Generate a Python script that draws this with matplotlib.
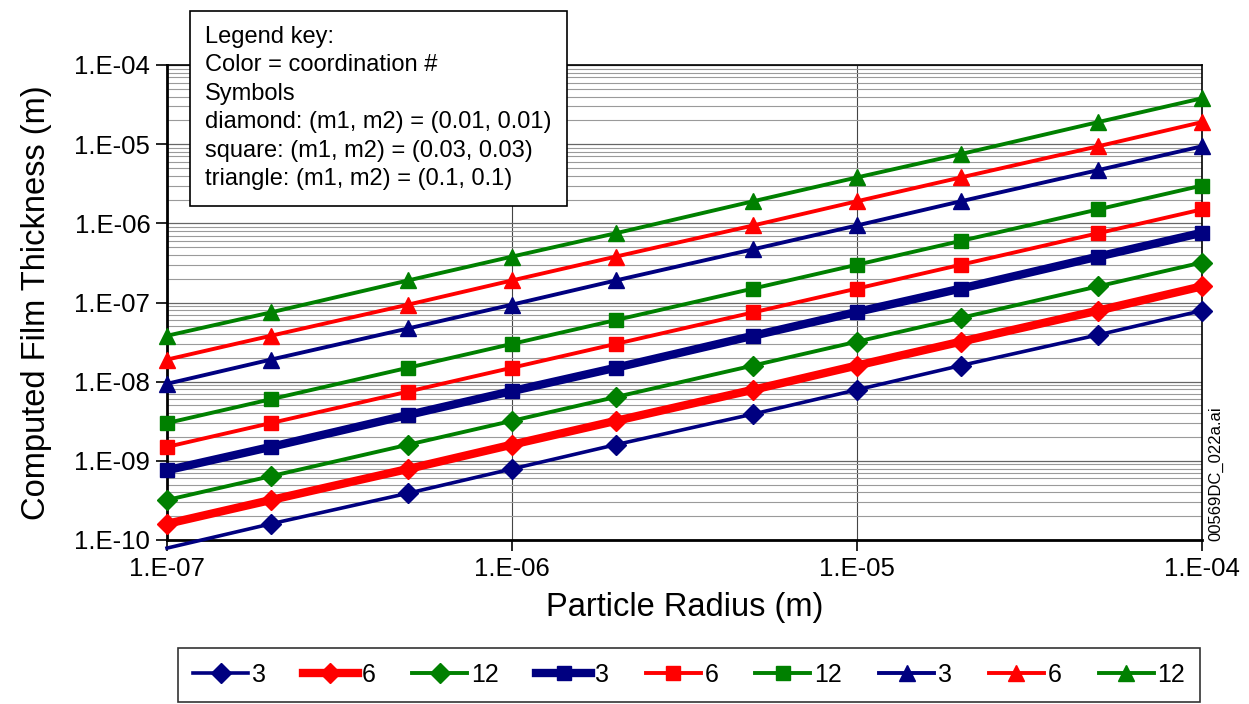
import numpy as np
import matplotlib
matplotlib.use("Agg")
import matplotlib.pyplot as plt
from matplotlib.ticker import FixedLocator, FuncFormatter, NullFormatter

plt.rcParams["font.family"] = ["Liberation Sans", "DejaVu Sans"]

# particle radius (m)
radius = [1e-7, 2e-7, 5e-7, 1e-6, 2e-6, 5e-6, 1e-5, 2e-5, 5e-5, 1e-4]

# computed film thickness (m)
dia_3 = [7.9e-11, 1.6e-10, 3.9e-10, 7.9e-10, 1.6e-9, 3.9e-9, 7.9e-9, 1.6e-8, 3.9e-8, 7.9e-8]
dia_6 = [1.6e-10, 3.2e-10, 7.9e-10, 1.6e-9, 3.2e-9, 7.9e-9, 1.6e-8, 3.2e-8, 7.9e-8, 1.6e-7]
dia_12 = [3.2e-10, 6.4e-10, 1.6e-9, 3.2e-9, 6.4e-9, 1.6e-8, 3.2e-8, 6.4e-8, 1.6e-7, 3.2e-7]
sq_3 = [7.6e-10, 1.5e-9, 3.8e-9, 7.6e-9, 1.5e-8, 3.8e-8, 7.6e-8, 1.5e-7, 3.8e-7, 7.6e-7]
sq_6 = [1.5e-9, 3.0e-9, 7.5e-9, 1.5e-8, 3.0e-8, 7.5e-8, 1.5e-7, 3.0e-7, 7.5e-7, 1.5e-6]
sq_12 = [3.0e-9, 6.0e-9, 1.5e-8, 3.0e-8, 6.0e-8, 1.5e-7, 3.0e-7, 6.0e-7, 1.5e-6, 3.0e-6]
tri_3 = [9.4e-9, 1.9e-8, 4.7e-8, 9.4e-8, 1.9e-7, 4.7e-7, 9.4e-7, 1.9e-6, 4.7e-6, 9.4e-6]
tri_6 = [1.9e-8, 3.8e-8, 9.4e-8, 1.9e-7, 3.8e-7, 9.4e-7, 1.9e-6, 3.8e-6, 9.4e-6, 1.9e-5]
tri_12 = [3.8e-8, 7.5e-8, 1.9e-7, 3.8e-7, 7.5e-7, 1.9e-6, 3.8e-6, 7.5e-6, 1.9e-5, 3.8e-5]

labels = ["3", "6", "12", "3", "6", "12", "3", "6", "12"]

NAVY, RED, GREEN = "#000080", "#ff0000", "#008000"
series = [
    (dia_3, NAVY, "D", 2.6, 10),
    (dia_6, RED, "D", 6.0, 10),
    (dia_12, GREEN, "D", 2.8, 10),
    (sq_3, NAVY, "s", 6.0, 10),
    (sq_6, RED, "s", 2.8, 10),
    (sq_12, GREEN, "s", 2.8, 10),
    (tri_3, NAVY, "^", 2.8, 12),
    (tri_6, RED, "^", 2.8, 12),
    (tri_12, GREEN, "^", 2.8, 12),
]

YMIN, YMAX = 1e-10, 1e-4

fig = plt.figure(figsize=(12.49, 7.04), dpi=100)
ax = fig.add_axes([167 / 1249, 1 - 540 / 704, (1202 - 167) / 1249, (540 - 65) / 704])
ax.set_xscale("log")
ax.set_yscale("log")
ax.set_xlim(1e-7, 1e-4)
ax.set_ylim(YMIN, YMAX)

handles = []
for (vals, col, mk, lw, ms), lab in zip(series, labels):
    shown = [i for i, v in enumerate(vals) if v >= YMIN]
    h, = ax.plot(radius, vals, color=col, lw=lw, marker=mk, ms=ms,
                 markevery=shown, clip_on=False, zorder=3, label=lab)
    handles.append(h)

# grid: all y decades + minors, x decades only
ax.yaxis.set_minor_locator(FixedLocator(
    [m * 10.0 ** e for e in range(-10, -4) for m in range(2, 10)]))
ax.yaxis.set_minor_formatter(NullFormatter())
ax.grid(True, axis="y", which="minor", color="#9a9a9a", lw=0.8)
ax.grid(True, axis="y", which="major", color="#666666", lw=0.9)
ax.grid(True, axis="x", which="major", color="#444444", lw=0.8)
ax.xaxis.set_minor_locator(FixedLocator([]))
ax.tick_params(which="minor", length=0)
ax.tick_params(which="major", direction="out", length=8, width=1.2,
               labelsize=18.5, colors="black", pad=4)

fmt = FuncFormatter(lambda v, p: "1.E-%02d" % abs(int(round(np.log10(v)))))
ax.xaxis.set_major_formatter(fmt)
ax.yaxis.set_major_formatter(fmt)
ax.set_xticks([1e-7, 1e-6, 1e-5, 1e-4])
ax.set_yticks([10.0 ** e for e in range(-10, -3)])

for sp in ax.spines.values():
    sp.set_color("black")
    sp.set_linewidth(1.2)
ax.spines["left"].set_linewidth(2)
ax.spines["bottom"].set_linewidth(2)

ax.set_xlabel("Particle Radius (m)", fontsize=23.5, labelpad=8)
ax.set_ylabel("Computed Film Thickness (m)", fontsize=23.5, labelpad=16)

# key box
fig.text(205 / 1249, 1 - 26 / 704,
         "Legend key:\nColor = coordination #\nSymbols\n"
         "diamond: (m1, m2) = (0.01, 0.01)\nsquare: (m1, m2) = (0.03, 0.03)\n"
         "triangle: (m1, m2) = (0.1, 0.1)",
         fontsize=17, va="top", ha="left", linespacing=1.38, zorder=10,
         bbox=dict(boxstyle="square,pad=0.65", facecolor="white",
                   edgecolor="black", lw=1.2))

fig.text(1216 / 1249, 1 - 541 / 704, "00569DC_022a.ai", rotation=90,
         fontsize=12, ha="center", va="bottom")

leg = fig.legend(handles=handles, loc="lower left", ncol=9, mode="expand",
                 bbox_to_anchor=(178 / 1249, 2 / 704, (1200 - 178) / 1249, 60 / 704),
                 fontsize=18, frameon=True, fancybox=False, handlelength=2.2,
                 handletextpad=0.15, columnspacing=1.0, borderaxespad=0,
                 borderpad=0.6)
leg.get_frame().set_edgecolor("black")
leg.get_frame().set_linewidth(1.2)

fig.savefig("out.png", dpi=100)
